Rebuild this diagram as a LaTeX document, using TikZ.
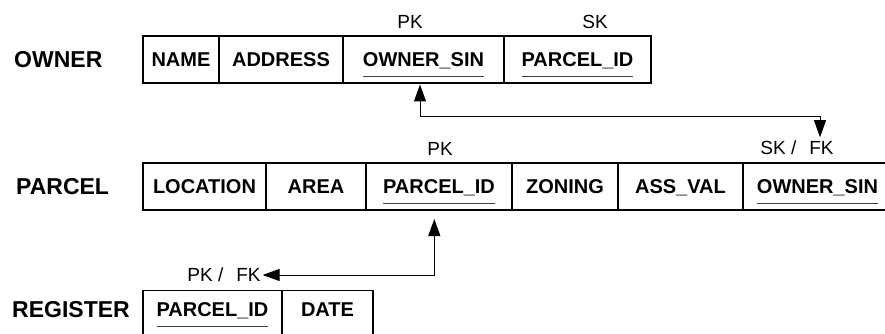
\documentclass[tikz,border=0pt]{standalone}
\usepackage{fontspec}
\setmainfont{Liberation Sans}
\usetikzlibrary{arrows.meta,positioning}
\newcommand{\keyline}[1]{\setbox0\hbox{#1}\rlap{\smash{\textcolor{black!75}{\rule[-10pt]{\wd0}{1pt}}}}\box0}

\begin{document}
\begin{tikzpicture}[x=1pt,y=-1pt,
    cell/.style={draw, line width=1.1pt, outer sep=0pt, inner sep=0pt,
      minimum height=47pt, text height=14.3pt, text depth=0pt,
      font=\fontsize{20}{24}\selectfont\bfseries},
    regcell/.style={cell, text depth=9pt},
    tname/.style={anchor=west, inner sep=0pt, font=\fontsize{23}{27}\selectfont\bfseries},
    keylabel/.style={inner sep=2pt, outer sep=0pt, text height=13.6pt, text depth=0pt,
      font=\fontsize{19}{22}\selectfont},
    conn/.style={line width=1pt, {Triangle[length=17pt,width=12pt]}-{Triangle[length=17pt,width=12pt]}}]
  \useasboundingbox (0,0) rectangle (885,334);
  \clip (0,0) rectangle (885,334);

  % owner table
  \node[tname] (owner) at (14,59.5) {OWNER};
  \node[cell, minimum width=76pt, anchor=north west] (oname) at (143,36) {NAME};
  \node[cell, minimum width=124pt, right=0pt of oname] (oaddr) {ADDRESS};
  \node[cell, minimum width=161pt, right=0pt of oaddr] (osin) {\keyline{OWNER\_SIN}};
  \node[cell, minimum width=147pt, right=0pt of osin] (opid) {\keyline{PARCEL\_ID}};
  \node[keylabel] (opk) at (410,21.5) {PK};
  \node[keylabel] (osk) at (595,22) {SK};

  % parcel table
  \node[tname] (parcel) at (16,186.5) {PARCEL};
  \node[cell, minimum width=123pt, anchor=north west] (ploc) at (143,163) {LOCATION};
  \node[cell, minimum width=100pt, right=0pt of ploc] (parea) {AREA};
  \node[cell, minimum width=146pt, right=0pt of parea] (ppid) {\keyline{PARCEL\_ID}};
  \node[cell, minimum width=106pt, right=0pt of ppid] (pzon) {ZONING};
  \node[cell, minimum width=125pt, right=0pt of pzon] (pval) {ASS\_VAL};
  \node[cell, minimum width=149pt, right=0pt of pval] (psin) {\keyline{OWNER\_SIN}};
  \node[keylabel] (ppk) at (440,148.5) {PK};
  \node[keylabel] (pskfk) at (797,148) {SK /\hspace{13pt}FK};

  % register table
  \node[tname] (register) at (12,310) {REGISTER};
  \node[regcell, minimum width=139pt, anchor=north west] (rpid) at (143,290.7) {\keyline{PARCEL\_ID}};
  \node[regcell, minimum width=91pt, right=0pt of rpid] (rdate) {DATE};
  \node[keylabel] (rpkfk) at (224,275) {PK /\hspace{13pt}FK};

  % links
  \draw[conn] ([xshift=-3.5pt,yshift=-1.5pt]osin.south) -- ++(0,32) -| ([xshift=23pt,yshift=2pt]pskfk.north);
  \draw[conn] ([xshift=-4.7pt,yshift=-9pt]ppid.south) |- (rpkfk.east);
\end{tikzpicture}
\end{document}
